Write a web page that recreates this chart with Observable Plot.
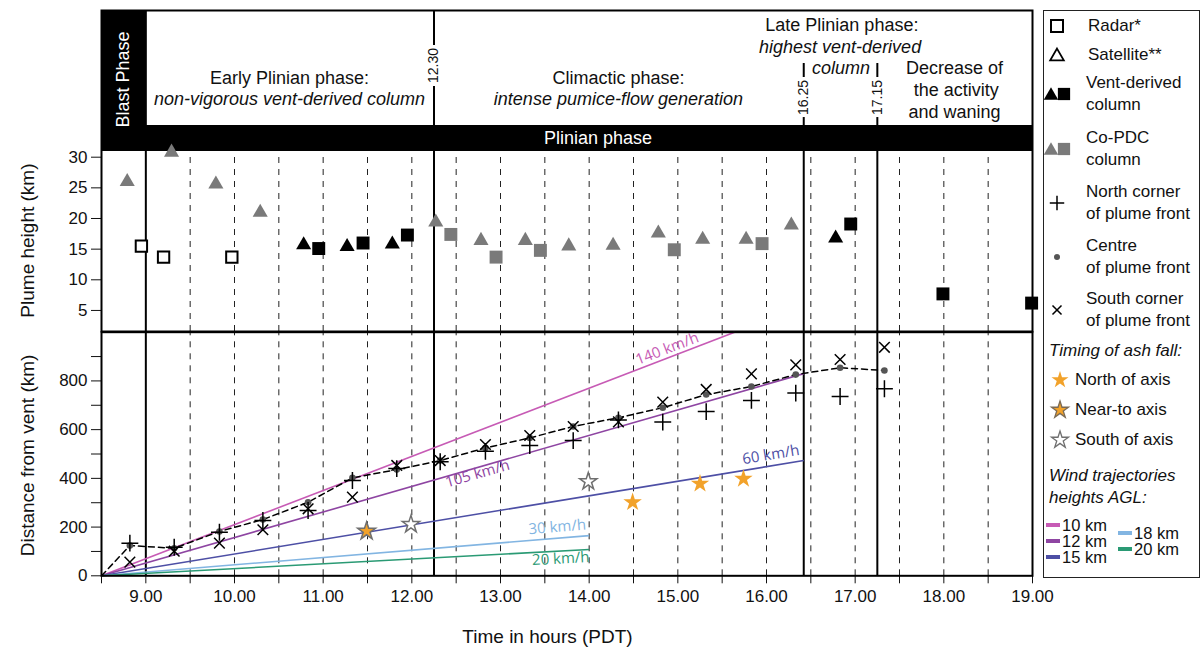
<!DOCTYPE html>
<html><head><meta charset="utf-8">
<script src="https://cdn.jsdelivr.net/npm/d3@7"></script>
<script src="https://cdn.jsdelivr.net/npm/@observablehq/plot@0.6"></script>
<style>
body{margin:0;background:#fff;font-family:"Liberation Sans",Arial,Helvetica,sans-serif;}
#wrap{position:relative;width:1203px;height:648px;overflow:hidden;background:#fff;}
#top,#bottom{position:absolute;left:0;}
#top{top:0}
#bottom{top:320px}
#legend{position:absolute;left:1043px;top:10px;width:157px;height:568px;border:1px solid #222;background:#fff;box-sizing:border-box;}
.lt{position:absolute;font-size:17px;line-height:20px;color:#111;white-space:nowrap;transform:translateY(-50%);}
.lt.small{font-size:16.5px;line-height:15px;}
.ls{position:absolute;overflow:visible;}
</style></head><body>
<div id="wrap"><div id="top"></div><div id="bottom"></div><div id="legend"></div></div>
<script>
const FONT = '"Liberation Sans", Arial, Helvetica, sans-serif';

// ---------- top panel: plume heights (hour, km) ----------
const radarHours = [8.95, 9.20, 9.97];
const radarKm    = [15.5, 13.7, 13.7];
const ventTriHours = [10.78, 11.27, 11.78, 16.78];
const ventTriKm    = [15.7, 15.4, 15.8, 16.8];
const ventSqHours  = [10.95, 11.45, 11.95, 16.95, 17.99, 18.99];
const ventSqKm     = [15.1, 16.0, 17.3, 19.1, 7.7, 6.2];
const coTriHours = [8.79, 9.29, 9.79, 10.29, 12.27, 12.78, 13.28, 13.77, 14.27, 14.78, 15.28, 15.77, 16.28];
const coTriKm    = [26.0, 30.8, 25.6, 21.0, 19.4, 16.4, 16.4, 15.5, 15.6, 17.6, 16.6, 16.6, 18.9];
const coSqHours  = [12.44, 12.95, 13.45, 14.96, 15.95];
const coSqKm     = [17.4, 13.7, 14.8, 14.9, 15.9];

// ---------- bottom panel: plume front distance (hour, km) ----------
const ventHour = 8.5, ventKm = 0;
const frontHours = [8.82, 9.32, 9.83, 10.32, 10.83, 11.33, 11.83, 12.32, 12.83, 13.33, 13.82, 14.33, 14.83, 15.32, 15.83, 16.33, 16.83, 17.33];
const centreKm   = [124, 113, 182, 231, 302, 402, 436, 473, 525, 566, 613, 649, 690, 744, 777, 826, 854, 843];
const northKm    = [134, 117, 179, 227, 268, 391, 440, 468, 511, 535, 555, 640, 631, 674, 720, 750, 736, 768];
const southKm    = [56, 101, 134, 189, 275, 323, 453, 473, 539, 576, 613, 632, 713, 765, 829, 866, 888, 938];

const starNorthHours = [14.49, 15.25, 15.74];
const starNorthKm    = [302, 378, 398];
const starNearHours  = [11.49];
const starNearKm     = [183];
const starSouthHours = [11.99, 13.99];
const starSouthKm    = [211, 387];

// wind trajectories
const windHeights = ["10 km", "12 km", "15 km", "18 km", "20 km"];
const windLabels  = ["140 km/h", "105 km/h", "60 km/h", "30 km/h", "20 km/h"];
const windEndHour = [15.64, 16.42, 16.42, 14.0, 14.0];
const windEndKm   = [1000, 830, 473, 165, 108];
const windColors  = ["#c75bb5", "#8e45a2", "#4d4fa5", "#82b5e2", "#2a9a74"];
const windLabelHour = [14.88, 12.74, 16.05, 13.64, 13.68];
const windLabelKm   = [932, 419, 497, 200, 70];
const windLabelRot  = [-21, -16, -9.4, -4.7, -3.1];

// phases / time markers
const halfHours = d3.range(9.5, 18.51, 0.5);
const solidHours = [9.0, 12.25, 16.42, 17.25];
const timeLabels = ["12.30", "16.25", "17.15"];
const timeLabelHours = [12.25, 16.42, 17.25];
const timeLabelKm = [44.96, 39.73, 39.73];
const phaseText = ["Early Plinian phase:", "non-vigorous vent-derived column", "Climactic phase:", "intense pumice-flow generation",
  "Late Plinian phase:", "highest vent-derived", "column", "Decrease of", "the activity", "and waning"];
const phaseHour = [10.62, 10.62, 14.33, 14.33, 16.85, 16.83, 16.84, 18.12, 18.14, 18.12];
const phaseKm   = [42.84, 39.41, 42.84, 39.41, 51.48, 47.89, 44.47, 44.47, 40.9, 37.29];
const phaseItalic = [false, true, false, true, false, true, true, false, false, false];

const yTop = [1.566, 53.93];
const barBottom = 30.93, barTop = 35.17;

const pts = (xs, ys) => xs.map((x, i) => ({x, y: ys[i]}));
const W = 1060, ML = 101, MR = 28;

// ---------- top plot ----------
const topSegments = [
  {x: 9.0, y1: yTop[0], y2: yTop[1]},
  {x: 12.25, y1: yTop[0], y2: 41.53}, {x: 12.25, y1: 48.22, y2: yTop[1]},
  {x: 16.42, y1: yTop[0], y2: 36.47}, {x: 16.42, y1: 43.0, y2: 45.28},
  {x: 17.25, y1: yTop[0], y2: 36.47}, {x: 17.25, y1: 43.0, y2: 45.28}
];
const phases = phaseText.map((t, i) => ({t, x: phaseHour[i], y: phaseKm[i], it: phaseItalic[i]}));
const tl = timeLabels.map((t, i) => ({t, x: timeLabelHours[i], y: timeLabelKm[i]}));

const topPlot = Plot.plot({
  width: W, height: 332, marginLeft: ML, marginRight: MR, marginTop: 10, marginBottom: 1,
  style: {fontFamily: FONT, fontSize: "17px", color: "#111", background: "transparent", overflow: "visible"},
  x: {domain: [8.5, 19], axis: null},
  y: {domain: yTop, ticks: [5, 10, 15, 20, 25, 30], tickSize: 10, tickPadding: 4, label: null},
  marks: [
    Plot.ruleX(halfHours, {y1: yTop[0], y2: barBottom, stroke: "#222", strokeWidth: 1, strokeDasharray: "6,6"}),
    Plot.rect([{x1: 8.5, x2: 9.0, y1: barBottom, y2: yTop[1]}], {x1: "x1", x2: "x2", y1: "y1", y2: "y2", fill: "black"}),
    Plot.rect([{x1: 9.0, x2: 19, y1: barBottom, y2: barTop}], {x1: "x1", x2: "x2", y1: "y1", y2: "y2", fill: "black"}),
    Plot.ruleX(topSegments, {x: "x", y1: "y1", y2: "y2", stroke: "black", strokeWidth: 2}),
    Plot.frame({stroke: "black", strokeWidth: 2}),
    Plot.text(["Blast Phase"], {x: 8.75, y: 42.67, rotate: -90, fill: "white", fontSize: 18}),
    Plot.text(["Plinian phase"], {x: 14.1, y: 33.05, fill: "white", fontSize: 18}),
    Plot.text(phases.filter(d => !d.it), {x: "x", y: "y", text: "t", fontSize: 18, fill: "#111"}),
    Plot.text(phases.filter(d => d.it), {x: "x", y: "y", text: "t", fontSize: 18, fontStyle: "italic", fill: "#111"}),
    Plot.text(tl, {x: "x", y: "y", text: "t", rotate: -90, fontSize: 14, fill: "#111"}),
    Plot.text(["Plume height (km)"], {x: 8.5, y: 16.4, dx: -74, rotate: -90, fontSize: 19, fill: "#111"}),
    Plot.dot(pts(coTriHours, coTriKm), {x: "x", y: "y", symbol: "triangle", r: 5.6, fill: "#7a7a7a"}),
    Plot.dot(pts(coSqHours, coSqKm), {x: "x", y: "y", symbol: "square", r: 7.3, fill: "#7a7a7a"}),
    Plot.dot(pts(ventTriHours, ventTriKm), {x: "x", y: "y", symbol: "triangle", r: 5.6, fill: "black"}),
    Plot.dot(pts(ventSqHours, ventSqKm), {x: "x", y: "y", symbol: "square", r: 7.3, fill: "black"}),
    Plot.dot(pts(radarHours, radarKm), {x: "x", y: "y", symbol: "square", r: 6.4, fill: "white", stroke: "black", strokeWidth: 2})
  ]
});
document.getElementById("top").appendChild(topPlot);

// ---------- bottom plot ----------
const centreLine = [{x: ventHour, y: ventKm}, ...pts(frontHours, centreKm)];
const wind = windHeights.map((h, i) => ({h, x1: ventHour, y1: ventKm, x2: windEndHour[i], y2: windEndKm[i], c: windColors[i],
  lab: windLabels[i], lx: windLabelHour[i], ly: windLabelKm[i], rot: windLabelRot[i]}));

const bottomPlot = Plot.plot({
  width: W, height: 328, marginLeft: ML, marginRight: MR, marginTop: 11.7, marginBottom: 72.7,
  style: {fontFamily: FONT, fontSize: "17px", color: "#111", background: "transparent", overflow: "visible"},
  color: {type: "identity"},
  x: {domain: [8.5, 19], ticks: d3.range(8.5, 19.01, 0.5), tickFormat: d => Number.isInteger(d) ? d.toFixed(2) : "", tickSize: 8, tickPadding: 6, label: null},
  y: {domain: [0, 1000], ticks: d3.range(0, 901, 100), tickFormat: d => d % 200 === 0 ? String(d) : "", tickSize: 10, tickPadding: 4, label: null},
  marks: [
    Plot.ruleX(halfHours, {y1: 0, y2: 1000, stroke: "#222", strokeWidth: 1, strokeDasharray: "6,6"}),
    Plot.ruleX(solidHours, {y1: 0, y2: 1000, stroke: "black", strokeWidth: 2}),
    Plot.link(wind, {x1: "x1", y1: "y1", x2: "x2", y2: "y2", stroke: "c", strokeWidth: 1.6}),
    Plot.text(wind, {x: "lx", y: "ly", text: "lab", rotate: "rot", fill: "c", fontSize: 15, fontFamily: '"Open Sans", sans-serif'}),
    Plot.frame({stroke: "black", strokeWidth: 2}),
    Plot.line(centreLine, {x: "x", y: "y", stroke: "black", strokeWidth: 1.5, strokeDasharray: "6,4"}),
    Plot.dot(pts(frontHours, centreKm), {x: "x", y: "y", r: 3.3, fill: "#555"}),
    Plot.dot(pts(frontHours, northKm), {x: "x", y: "y", symbol: "plus", r: 5.5, stroke: "black", strokeWidth: 1.5}),
    Plot.dot(pts(frontHours, southKm), {x: "x", y: "y", symbol: "times", r: 4.9, stroke: "black", strokeWidth: 1.5}),
    Plot.dot(pts(starNorthHours, starNorthKm), {x: "x", y: "y", symbol: "star", r: 5.8, fill: "#f2a22a"}),
    Plot.dot(pts(starNearHours, starNearKm), {x: "x", y: "y", symbol: "star", r: 5.6, fill: "#f2a22a", stroke: "#6f6f6f", strokeWidth: 1.5}),
    Plot.dot(pts(starSouthHours, starSouthKm), {x: "x", y: "y", symbol: "star", r: 5.4, fill: "white", stroke: "#6f6f6f", strokeWidth: 1.5}),
    Plot.text(["Distance from vent (km)"], {x: 8.5, y: 494, dx: -74, rotate: -90, fontSize: 19, fill: "#111"}),
    Plot.text(["Time in hours (PDT)"], {x: 13.53, y: 0, dy: 61, fontSize: 19, fill: "#111"})
  ]
});
document.getElementById("bottom").appendChild(bottomPlot);

// ---------- legend ----------
const L = document.getElementById("legend");
const LX = 1044, LY = 11; // inner origin (page coords)
const sym = (type, size) => d3.symbol(d3["symbol" + type], size)();
function addSvg(cx, cy, inner, w = 30, h = 24) {
  const s = document.createElementNS("http://www.w3.org/2000/svg", "svg");
  s.setAttribute("class", "ls"); s.setAttribute("width", w); s.setAttribute("height", h);
  s.style.left = (cx - LX - w / 2) + "px"; s.style.top = (cy - LY - h / 2) + "px";
  s.innerHTML = `<g transform="translate(${w / 2},${h / 2})">${inner}</g>`;
  L.appendChild(s);
}
function addText(x, cy, t, italic, cls) {
  const d = document.createElement("div");
  d.className = "lt" + (cls ? " " + cls : ""); d.textContent = t;
  d.style.left = (x - LX) + "px"; d.style.top = (cy - LY) + "px";
  if (italic) d.style.fontStyle = "italic";
  L.appendChild(d);
}
const legendSymbolText = [
  ["Radar*"], ["Satellite**"], ["Vent-derived", "column"], ["Co-PDC", "column"],
  ["North corner", "of plume front"], ["Centre", "of plume front"], ["South corner", "of plume front"]
];
const legendRowY = [26, 55, 94, 149, 203, 257, 310];
const tri = sym("Triangle", 90), sq = sym("Square", 150);
const legendSymbols = [
  `<rect x="-6" y="-6" width="12" height="12" fill="white" stroke="black" stroke-width="2"/>`,
  `<path d="${sym("Triangle", 80)}" transform="translate(0,1.5)" fill="none" stroke="black" stroke-width="1.8"/>`,
  `<path d="${tri}" transform="translate(-6,1.5)" fill="black"/><path d="${sq}" transform="translate(7,0)" fill="black"/>`,
  `<path d="${tri}" transform="translate(-6,1.5)" fill="#7a7a7a"/><path d="${sq}" transform="translate(7,0)" fill="#7a7a7a"/>`,
  `<path d="${sym("Plus", 70)}" stroke="black" stroke-width="1.5" fill="none"/>`,
  `<circle r="3" fill="#555"/>`,
  `<path d="${sym("Times", 55)}" stroke="black" stroke-width="1.5" fill="none"/>`
];
legendSymbolText.forEach((lines, i) => {
  addSvg(1057, legendRowY[i], legendSymbols[i]);
  const cy = legendRowY[i];
  if (lines.length === 1) addText(1088, cy, lines[0]);
  else { addText(1086, cy - 11, lines[0]); addText(1086, cy + 11, lines[1]); }
});
addText(1049, 351, "Timing of ash fall:", true);
const starLegend = ["North of axis", "Near-to axis", "South of axis"];
const starLegendY = [380, 410, 440];
const starPath = sym("Star", 90);
const starStyles = [`fill="#f2a22a"`, `fill="#f2a22a" stroke="#7a6a55" stroke-width="1.3"`, `fill="white" stroke="#6f6f6f" stroke-width="1.3"`];
starLegend.forEach((t, i) => {
  addSvg(1060, starLegendY[i], `<path d="${starPath}" ${starStyles[i]}/>`);
  addText(1075, starLegendY[i], t);
});
addText(1049, 476, "Wind trajectories", true);
addText(1049, 498, "heights AGL:", true);
const windLegendX = [1046, 1046, 1046, 1118, 1118];
const windLegendY = [525, 541, 557, 533, 549];
windHeights.forEach((h, i) => {
  const sw = document.createElement("div");
  sw.style.cssText = `position:absolute;left:${windLegendX[i] - LX}px;top:${windLegendY[i] - LY - 2}px;width:14px;height:4px;background:${windColors[i]};`;
  L.appendChild(sw);
  addText(windLegendX[i] + 16, windLegendY[i], h, false, "small");
});
</script></body></html>
